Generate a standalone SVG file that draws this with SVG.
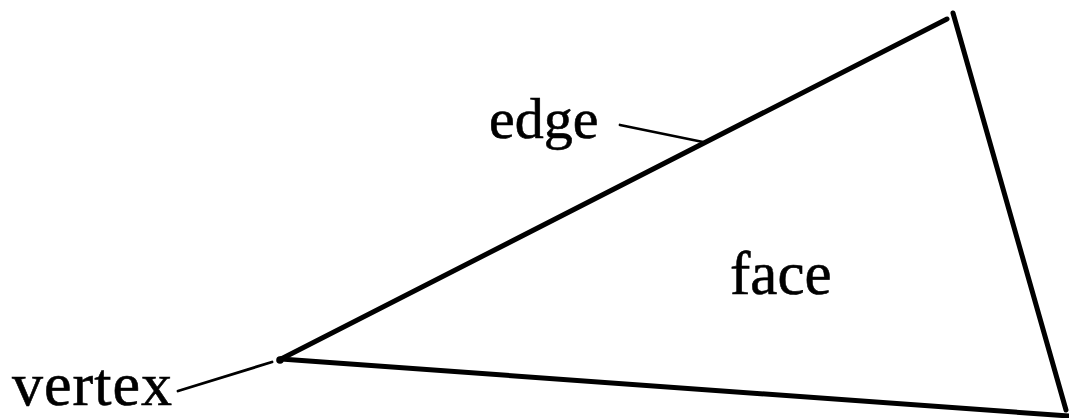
<svg xmlns="http://www.w3.org/2000/svg" width="1069" height="418" viewBox="0 0 1069 418">
<style>
.edge{stroke:#000;stroke-width:5;fill:none;stroke-linecap:round;stroke-linejoin:round}
.lead{stroke:#000;stroke-width:2.8;fill:none;stroke-linecap:round}
.lbl{font-family:"Liberation Serif","Times New Roman",serif;fill:#000;stroke:#000;stroke-width:0.6}
</style>
<rect width="1069" height="418" fill="#fff"/>
<g id="connectors">
<line class="edge" x1="281" y1="359" x2="947" y2="19"/>
<line class="edge" x1="953" y1="13" x2="1066" y2="410"/>
<line class="edge" x1="281" y1="359" x2="1069" y2="416"/>
<line class="lead" x1="620" y1="125" x2="703" y2="142"/>
<line class="lead" x1="178" y1="391" x2="272" y2="362"/>
</g>
<g id="vertex-point"><circle cx="280" cy="360" r="3.8" fill="#000"/></g>
<g id="edge-label"><text class="lbl" x="489" y="138" font-size="58">edge</text></g>
<g id="face-label"><text class="lbl" x="730" y="294" font-size="61">face</text></g>
<g id="vertex-label"><text class="lbl" x="12" y="405" font-size="62" textLength="160">vertex</text></g>
</svg>
